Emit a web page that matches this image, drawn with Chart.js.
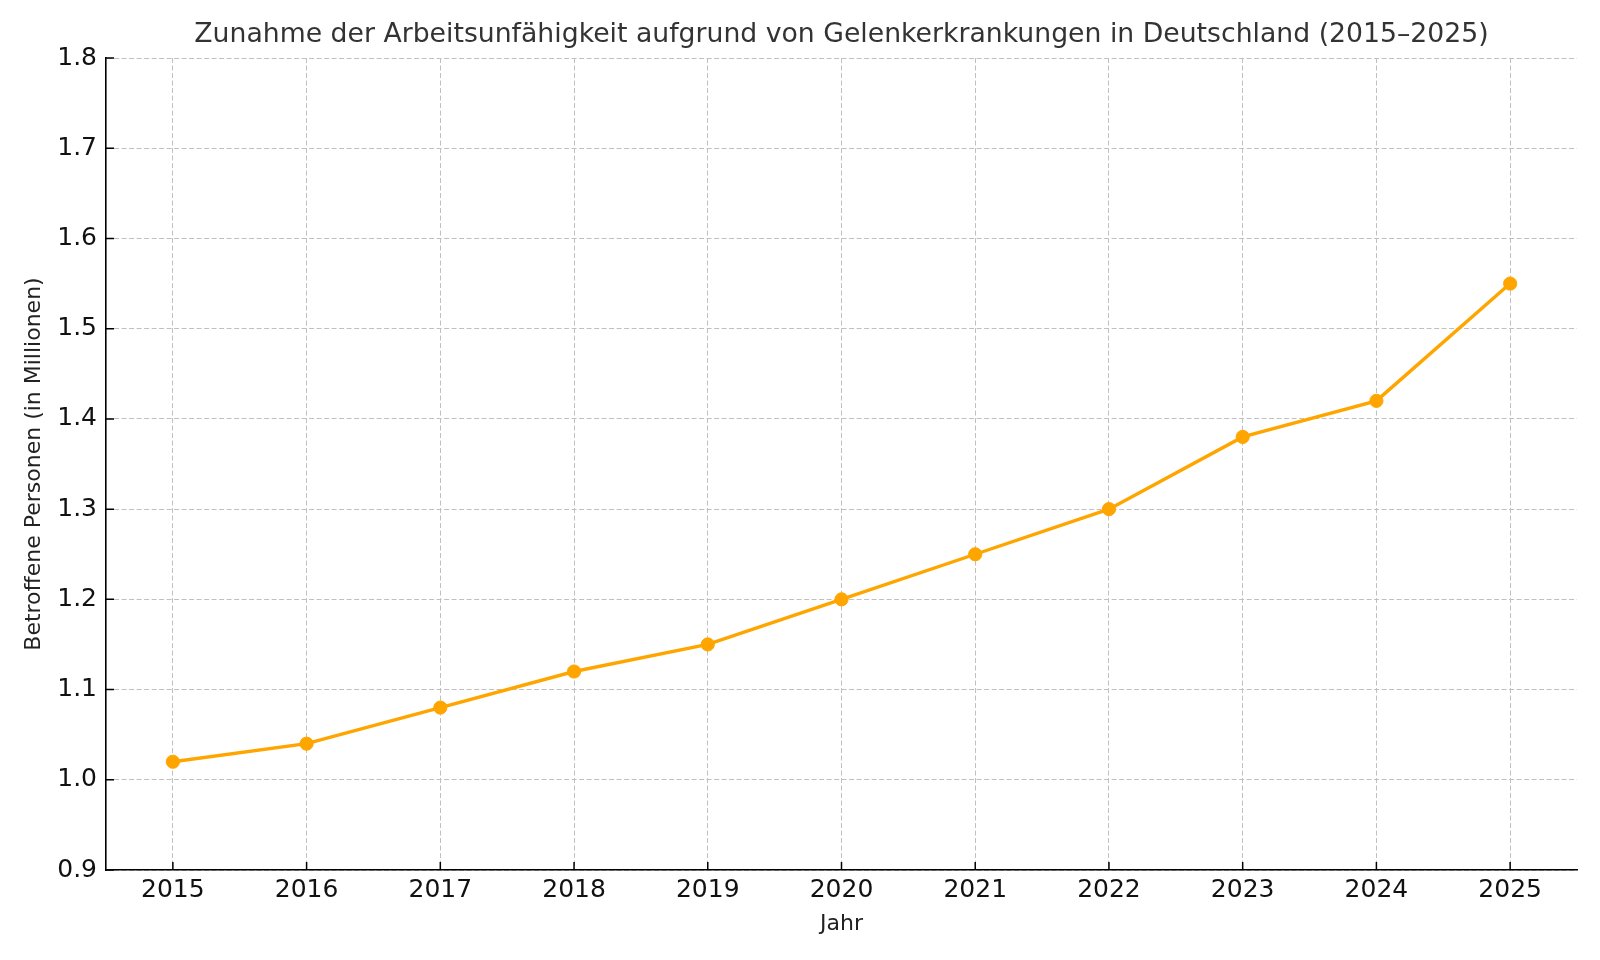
<!DOCTYPE html>
<html>
<head>
<meta charset="utf-8">
<script src="https://cdn.jsdelivr.net/npm/chart.js@4"></script>
<style>
html,body{margin:0;padding:0;background:#fff;}
#wrap{width:1600px;height:960px;}
</style>
</head>
<body>
<div id="wrap"><canvas id="c" width="1600" height="960"></canvas></div>
<script>
const years = ['2015','2016','2017','2018','2019','2020','2021','2022','2023','2024','2025'];
const affected = [1.02, 1.04, 1.08, 1.12, 1.15, 1.20, 1.25, 1.30, 1.38, 1.42, 1.55];
const yTicks = [0.9, 1.0, 1.1, 1.2, 1.3, 1.4, 1.5, 1.6, 1.7, 1.8];
const titleText = 'Zunahme der Arbeitsunfähigkeit aufgrund von Gelenkerkrankungen in Deutschland (2015–2025)';

const FONT = "'DejaVu Sans', sans-serif";

const inwardTicks = {
  id: 'inwardTicks',
  afterDraw(chart) {
    const ctx = chart.ctx, a = chart.chartArea;
    const xs = chart.scales.x, ys = chart.scales.y;
    ctx.save();
    ctx.strokeStyle = '#000';
    ctx.lineWidth = 1.5;
    ctx.beginPath();
    xs.ticks.forEach((t, i) => {
      const px = xs.getPixelForTick(i);
      ctx.moveTo(px, a.bottom); ctx.lineTo(px, a.bottom - 8);
    });
    ys.ticks.forEach((t, i) => {
      const py = ys.getPixelForTick(i);
      ctx.moveTo(a.left, py); ctx.lineTo(a.left + 8, py);
    });
    ctx.stroke();
    ctx.restore();
  }
};

new Chart(document.getElementById('c'), {
  type: 'line',
  data: {
    labels: years,
    datasets: [{
      data: affected,
      borderColor: '#FFA500',
      backgroundColor: '#FFA500',
      borderWidth: 3.4,
      pointRadius: 6.6,
      pointHoverRadius: 6.6,
      pointBorderWidth: 1,
      pointBackgroundColor: '#FFA500',
      pointBorderColor: '#FFA500',
      tension: 0,
      fill: false
    }]
  },
  options: {
    responsive: false,
    animation: false,
    devicePixelRatio: 1,
    layout: { padding: { left: 0, right: 23, top: 0, bottom: 0 } },
    plugins: {
      legend: { display: false },
      tooltip: { enabled: false },
      title: {
        display: true,
        text: titleText,
        fullSize: false,
        color: '#333',
        font: { family: FONT, size: 26.7, weight: 'normal' },
        padding: { top: 19, bottom: 7 }
      }
    },
    scales: {
      x: {
        offset: true,
        grid: { color: '#c0c0c0', lineWidth: 1, drawTicks: false, offset: false },
        border: { display: true, color: '#000', width: 1.6, dash: [5, 2.5] },
        ticks: { color: '#111', font: { family: FONT, size: 25 }, padding: 5, maxRotation: 0, autoSkip: false },
        title: { display: true, text: 'Jahr', color: '#222', font: { family: FONT, size: 22 }, padding: { top: 0, bottom: 23 } },
        afterFit(s) { s.height = 90; }
      },
      y: {
        min: 0.9,
        max: 1.8,
        afterBuildTicks(s) { s.ticks = yTicks.map(v => ({ value: v })); },
        grid: { color: '#c0c0c0', lineWidth: 1, drawTicks: false },
        border: { display: true, color: '#000', width: 1.6, dash: [5, 2.5] },
        ticks: { color: '#111', font: { family: FONT, size: 25 }, padding: 9, callback: v => Number(v).toFixed(1) },
        title: { display: true, text: 'Betroffene Personen (in Millionen)', color: '#222', font: { family: FONT, size: 22 }, padding: { top: 21, bottom: 0 } },
        afterFit(s) { s.width = 106; }
      }
    }
  },
  plugins: [inwardTicks]
});
</script>
</body>
</html>
